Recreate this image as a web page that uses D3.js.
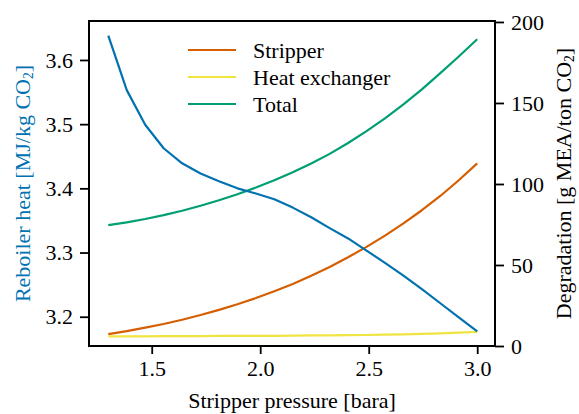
<!DOCTYPE html>
<html>
<head>
<meta charset="utf-8">
<script src="https://cdn.jsdelivr.net/npm/d3@7/dist/d3.min.js"></script>
<style>
  body { margin: 0; background: #fff; }
  svg text { font-family: "Liberation Serif", "Times New Roman", serif !important; }
</style>
</head>
<body>
<svg id="chart" width="579" height="414"></svg>
<script>
// Stripper pressure [bara]
const pressure = [1.3, 1.385, 1.47, 1.555, 1.64, 1.725, 1.81, 1.895, 1.98, 2.065, 2.15,
                  2.235, 2.32, 2.405, 2.49, 2.575, 2.66, 2.745, 2.83, 2.915, 3.0];
// Reboiler heat duty [MJ/kg CO2] (left axis)
const reboilerHeat = [3.638, 3.553, 3.499, 3.4625, 3.439, 3.423, 3.411, 3.400, 3.392, 3.383, 3.370,
                      3.355, 3.338, 3.322, 3.303, 3.284, 3.264, 3.243, 3.221, 3.199, 3.177];
// Degradation [g MEA/ton CO2] (right axis)
const stripperDeg = [7.3, 9.2, 11.3, 13.6, 16.2, 19.1, 22.3, 25.8, 29.6, 33.8, 38.3,
                     43.3, 48.8, 54.8, 61.2, 68.1, 75.7, 83.8, 92.6, 102.3, 112.7];
const heatExchangerDeg = [6.0, 6.0, 6.0, 6.1, 6.1, 6.1, 6.2, 6.2, 6.3, 6.3, 6.4,
                          6.5, 6.6, 6.7, 6.8, 7.0, 7.2, 7.5, 7.8, 8.2, 8.7];
const totalDeg = [74.6, 76.3, 78.4, 80.8, 83.5, 86.6, 90.0, 93.7, 97.8, 102.3, 107.2,
                  112.6, 118.6, 125.3, 132.6, 140.5, 149.1, 158.4, 168.4, 178.7, 189.3];

const xTicks = [1.5, 2.0, 2.5, 3.0];
const leftTicks = [3.2, 3.3, 3.4, 3.5, 3.6];
const rightTicks = [0, 50, 100, 150, 200];

const seriesNames = ["Stripper", "Heat exchanger", "Total"];
const seriesColors = ["#D55E00", "#F0E442", "#009E73"];
const heatColor = "#0072B2";

const serif = '"Liberation Serif", "Times New Roman", serif';
const svg = d3.select("#chart");
const plot = { left: 89, right: 495, top: 21, bottom: 346 };

const x = d3.scaleLinear().domain([1.211, 3.082]).range([plot.left, plot.right]);
const yL = d3.scaleLinear().domain([3.1544, 3.6607]).range([plot.bottom, plot.top]);
const yR = d3.scaleLinear().domain([0, 200.6]).range([plot.bottom, plot.top]);

const fontSize = 22;

// Degradation curves on the right axis
const degSeries = [stripperDeg, heatExchangerDeg, totalDeg];
const lineR = d3.line().x((d, i) => x(pressure[i])).y(d => yR(d));
degSeries.forEach((vals, k) => {
  svg.append("path")
    .attr("d", lineR(vals))
    .attr("fill", "none")
    .attr("stroke", seriesColors[k])
    .attr("stroke-width", 2.2)
    .attr("stroke-linejoin", "round");
});

// Reboiler heat on the left axis
const lineL = d3.line().x((d, i) => x(pressure[i])).y(d => yL(d));
svg.append("path")
  .attr("d", lineL(reboilerHeat))
  .attr("fill", "none")
  .attr("stroke", heatColor)
  .attr("stroke-width", 2.2)
  .attr("stroke-linejoin", "round");

// Axes
function styleAxis(g) {
  g.attr("font-family", serif).attr("font-size", fontSize);
  g.select(".domain").remove();
  g.selectAll(".tick line").attr("stroke", "#000").attr("stroke-width", 1.8);
  g.selectAll(".tick text").attr("fill", "#000");
}

svg.append("g")
  .attr("transform", `translate(0,${plot.bottom})`)
  .call(d3.axisBottom(x).tickValues(xTicks).tickFormat(d3.format(".1f")).tickSize(8).tickPadding(6))
  .call(styleAxis);

svg.append("g")
  .attr("transform", `translate(${plot.left},0)`)
  .call(d3.axisLeft(yL).tickValues(leftTicks).tickFormat(d3.format(".1f")).tickSize(9).tickPadding(7))
  .call(styleAxis);

svg.append("g")
  .attr("transform", `translate(${plot.right},0)`)
  .call(d3.axisRight(yR).tickValues(rightTicks).tickFormat(d3.format("d")).tickSize(9).tickPadding(7))
  .call(styleAxis);

// Frame
svg.append("rect")
  .attr("x", plot.left).attr("y", plot.top)
  .attr("width", plot.right - plot.left).attr("height", plot.bottom - plot.top)
  .attr("fill", "none").attr("stroke", "#000").attr("stroke-width", 2);

// Axis titles
svg.append("text")
  .attr("x", (plot.left + plot.right) / 2).attr("y", 408)
  .attr("text-anchor", "middle").attr("font-size", fontSize)
  .text("Stripper pressure [bara]");

function co2Label(parent, cx, cy, prefix, suffix, color) {
  const t = parent.append("text")
    .attr("transform", `translate(${cx},${cy}) rotate(-90)`)
    .attr("text-anchor", "middle")
    .attr("font-size", fontSize)
    .attr("fill", color);
  t.append("tspan").text(prefix + "CO");
  t.append("tspan").attr("font-size", fontSize * 0.62).attr("dy", 3).text("2");
  t.append("tspan").attr("dy", -3).text(suffix);
}
co2Label(svg, 30, (plot.top + plot.bottom) / 2, "Reboiler heat [MJ/kg ", "]", heatColor);
co2Label(svg, 571, (plot.top + plot.bottom) / 2, "Degradation [g MEA/ton ", "]", "#000");

// Legend
const legend = svg.append("g");
seriesNames.forEach((name, k) => {
  const yy = 50 + k * 27;
  legend.append("line")
    .attr("x1", 188).attr("x2", 236).attr("y1", yy).attr("y2", yy)
    .attr("stroke", seriesColors[k]).attr("stroke-width", 2.2);
  legend.append("text")
    .attr("x", 253).attr("y", yy).attr("dy", "0.35em")
    .attr("font-size", fontSize)
    .text(name);
});
</script>
</body>
</html>
